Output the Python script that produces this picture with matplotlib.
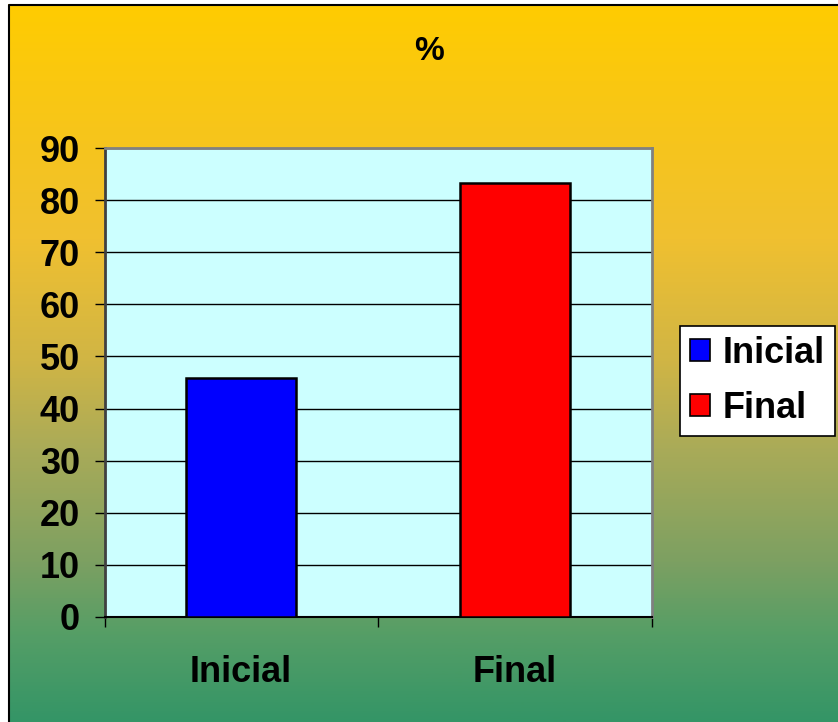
import matplotlib
matplotlib.use("Agg")
import matplotlib.pyplot as plt
import numpy as np
from matplotlib.colors import LinearSegmentedColormap
from matplotlib.patches import Rectangle, Patch

# data
categories = ["Inicial", "Final"]
values = [45.8, 83.3]
bar_colors = ["#0000FF", "#FF0000"]
title = "%"

plt.rcParams['font.family'] = ['Liberation Sans', 'DejaVu Sans']
plt.rcParams['font.weight'] = 'bold'

fig = plt.figure(figsize=(8.38, 7.22), dpi=100)

# gradient background (gold -> sea green)
bg = fig.add_axes([0, 0, 1, 1], zorder=-10)
stops = [(0.0, "#FFCC00"), (0.33, "#F0C030"), (0.5, "#D0B545"),
         (0.62, "#AAAB58"), (0.78, "#7CA062"), (0.88, "#559E66"),
         (1.0, "#349566")]
cmap = LinearSegmentedColormap.from_list("bg", stops)
grad = np.linspace(0, 1, 512).reshape(-1, 1)
bg.imshow(grad, aspect='auto', cmap=cmap, extent=[0, 1, 0, 1], origin='upper')
bg.set_xlim(0, 1)
bg.set_ylim(0, 1)
bg.axis('off')
# white margin on the left and the outer black frame
bg.add_patch(Rectangle((0, 0), 8 / 838, 1, facecolor='white', edgecolor='none',
                       transform=bg.transAxes, zorder=2))
bg.add_patch(Rectangle((0, 1 - 4 / 722), 1, 4 / 722, facecolor='white', edgecolor='none',
                       transform=bg.transAxes, zorder=2))
bg.plot([8.5 / 838, 8.5 / 838, 1], [0, 1 - 4.5 / 722, 1 - 4.5 / 722],
        color='black', lw=1.5, transform=bg.transAxes, zorder=3, clip_on=False)

ax = fig.add_axes([105 / 838, 1 - 617 / 722, 547 / 838, 469 / 722])
ax.set_facecolor("#CCFFFF")
x = np.arange(len(categories))
ax.bar(x, values, width=0.4, color=bar_colors, edgecolor='black', linewidth=1.8, zorder=3)

ax.set_xlim(-0.495, 1.5)
ax.set_ylim(0, 90)
ax.set_yticks(np.arange(0, 91, 10))
ax.yaxis.grid(True, color='black', linewidth=1, zorder=0)
ax.set_axisbelow(True)

ax.set_xticks(x)
ax.set_xticklabels(categories, fontsize=26, fontweight='bold')
ax.set_xticks([-0.495, 0.5, 1.5], minor=True)
ax.tick_params(axis='x', which='major', length=0, pad=27)
ax.tick_params(axis='x', which='minor', length=7, width=1, direction='out', color='black')
ax.tick_params(axis='y', length=7, width=1, direction='out', pad=11, labelsize=26)
for lbl in ax.get_yticklabels():
    lbl.set_fontweight('bold')

for side in ['top', 'right', 'left']:
    ax.spines[side].set_color('#808080')
    ax.spines[side].set_linewidth(2)
ax.spines['left'].set_color('#404040')
ax.spines['bottom'].set_color('black')
ax.spines['bottom'].set_linewidth(1.5)

fig.text(429 / 838, 1 - 51 / 722, title, ha='center', va='center',
         fontsize=24, fontweight='bold')

handles = [Patch(facecolor=c, edgecolor='black', linewidth=1.2) for c in bar_colors]
leg = fig.legend(handles, categories, loc='center left',
                 bbox_to_anchor=(680 / 838, 1 - 381 / 722),
                 prop={'weight': 'bold', 'size': 26},
                 frameon=True, fancybox=False, edgecolor='black', framealpha=1,
                 handlelength=0.55, handleheight=0.55, handletextpad=0.35,
                 labelspacing=0.55, borderpad=0.28, borderaxespad=0)
leg.get_frame().set_linewidth(1.2)

fig.savefig("out.png", dpi=100)
